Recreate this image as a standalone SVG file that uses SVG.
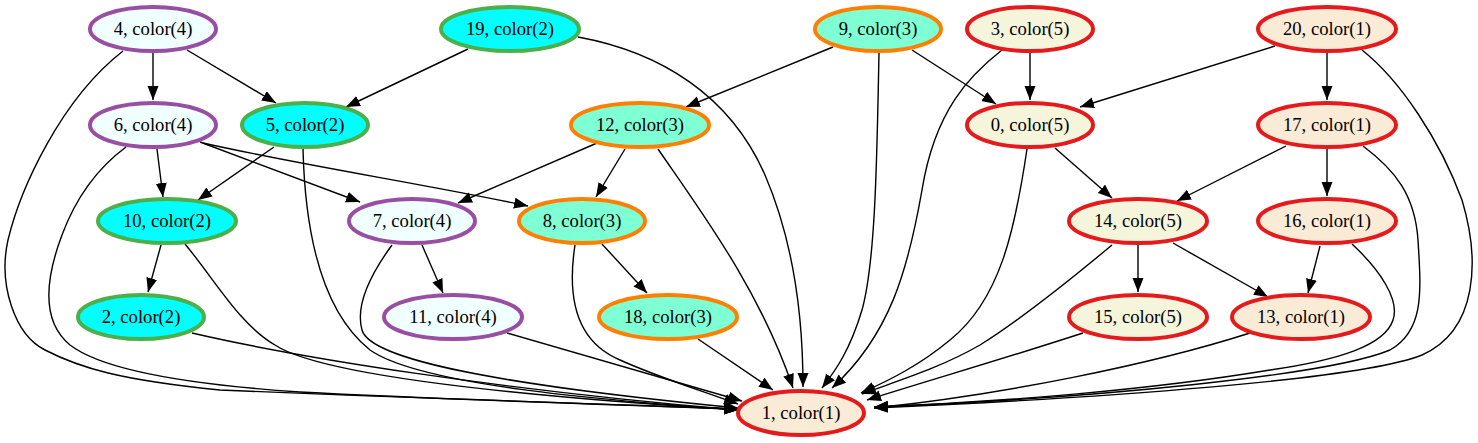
<svg xmlns="http://www.w3.org/2000/svg" width="1478" height="443" viewBox="0 0 1478 443">
<defs>
<marker id="ah" markerUnits="userSpaceOnUse" markerWidth="15" markerHeight="12" refX="14" refY="5.5" orient="auto">
<path d="M0,0 L14,5.5 L0,11 z" fill="#000"/>
</marker>
<style>
.e path{fill:none;stroke:#000;stroke-width:1.4;marker-end:url(#ah)}
ellipse{stroke-width:4}
text{font-family:"Liberation Serif","Times New Roman",serif;font-size:18.67px;text-anchor:middle;fill:#000}
.c1 ellipse{fill:#faebd7;stroke:#e41a1c}
.c2 ellipse{fill:#00ffff;stroke:#4daf4a}
.c3 ellipse{fill:#7fffd4;stroke:#ff7f00}
.c4 ellipse{fill:#f0ffff;stroke:#984ea3}
.c5 ellipse{fill:#f5f5dc;stroke:#e41a1c}
</style>
</defs>
<rect width="1478" height="443" fill="#fff"/>
<g id="edges" class="e">
<path d="M153,53 L153,100"/>
<path d="M187,50 L276,103"/>
<path d="M123,51 C60,100 20,190 8,240 C-2,285 15,335 45,350 C80,368 120,380 220,390 C400,398 600,403 738,409"/>
<path d="M126,147 C95,170 75,200 62,235 C45,280 42,322 70,345 C100,368 180,384 300,392 C450,400 600,404 738,409"/>
<path d="M468,49 L346,107"/>
<path d="M578,37 C660,52 730,95 765,175 C795,245 803,320 803,387"/>
<path d="M157,149 L163,197"/>
<path d="M200,142 L360,202"/>
<path d="M203,143 C300,165 430,185 528,206"/>
<path d="M274,147 L198,200"/>
<path d="M303,149 C305,230 320,310 370,350 C420,385 600,400 738,410"/>
<path d="M833,47 L686,107"/>
<path d="M912,50 L996,104"/>
<path d="M879,53 C877,150 876,260 862,310 C850,350 836,370 822,388"/>
<path d="M1030,53 L1030,100"/>
<path d="M1002,50 C970,75 935,110 922,190 C908,270 890,335 832,388"/>
<path d="M1275,46 L1080,107"/>
<path d="M1327,53 L1327,100"/>
<path d="M1362,50 C1400,80 1440,140 1462,200 C1480,260 1478,330 1422,355 C1360,380 1100,398 874,408"/>
<path d="M597,143 L458,203"/>
<path d="M625,149 L596,197"/>
<path d="M658,149 C700,210 760,290 793,388"/>
<path d="M1286,146 L1177,201"/>
<path d="M1327,149 L1327,196"/>
<path d="M1363,146 C1395,170 1415,195 1418,240 C1421,290 1425,330 1390,350 C1330,375 1100,398 874,407"/>
<path d="M1055,148 L1112,198"/>
<path d="M1027,149 C1015,230 1000,300 950,340 C920,365 890,380 861,393"/>
<path d="M161,245 L148,292"/>
<path d="M185,244 C215,280 240,325 275,345 C320,375 500,395 738,410"/>
<path d="M422,245 L443,293"/>
<path d="M392,245 C370,275 355,305 362,330 C370,360 500,385 738,408"/>
<path d="M602,244 L647,293"/>
<path d="M575,245 C568,290 572,340 620,360 C660,378 700,390 738,404"/>
<path d="M1138,245 L1138,292"/>
<path d="M1173,243 L1268,297"/>
<path d="M1112,245 C1070,280 1020,320 980,345 C940,368 900,380 862,394"/>
<path d="M1320,246 L1308,293"/>
<path d="M1352,244 C1380,270 1400,300 1393,320 C1385,345 1340,360 1270,370 C1150,390 1000,402 874,407"/>
<path d="M192,333 C300,358 500,390 738,410"/>
<path d="M507,333 L742,401"/>
<path d="M698,339 L773,390"/>
<path d="M1083,333 C1000,360 930,380 867,400"/>
<path d="M1250,333 C1150,365 1000,395 874,408"/>
</g>
<g id="n4" class="c4"><ellipse cx="153" cy="29" rx="63" ry="22"/><text x="153" y="35">4, color(4)</text></g>
<g id="n19" class="c2"><ellipse cx="510" cy="29" rx="69" ry="22"/><text x="510" y="35">19, color(2)</text></g>
<g id="n9" class="c3"><ellipse cx="878" cy="29" rx="63" ry="22"/><text x="878" y="35">9, color(3)</text></g>
<g id="n3" class="c5"><ellipse cx="1030" cy="29" rx="63" ry="22"/><text x="1030" y="35">3, color(5)</text></g>
<g id="n20" class="c1"><ellipse cx="1327" cy="29" rx="69" ry="22"/><text x="1327" y="35">20, color(1)</text></g>
<g id="n6" class="c4"><ellipse cx="153" cy="125" rx="63" ry="22"/><text x="153" y="131">6, color(4)</text></g>
<g id="n5" class="c2"><ellipse cx="305" cy="125" rx="63" ry="22"/><text x="305" y="131">5, color(2)</text></g>
<g id="n12" class="c3"><ellipse cx="640" cy="125" rx="69" ry="22"/><text x="640" y="131">12, color(3)</text></g>
<g id="n0" class="c5"><ellipse cx="1030" cy="125" rx="63" ry="22"/><text x="1030" y="131">0, color(5)</text></g>
<g id="n17" class="c1"><ellipse cx="1327" cy="125" rx="69" ry="22"/><text x="1327" y="131">17, color(1)</text></g>
<g id="n10" class="c2"><ellipse cx="167" cy="221" rx="69" ry="22"/><text x="167" y="227">10, color(2)</text></g>
<g id="n7" class="c4"><ellipse cx="412" cy="221" rx="63" ry="22"/><text x="412" y="227">7, color(4)</text></g>
<g id="n8" class="c3"><ellipse cx="582" cy="221" rx="63" ry="22"/><text x="582" y="227">8, color(3)</text></g>
<g id="n14" class="c5"><ellipse cx="1138" cy="221" rx="69" ry="22"/><text x="1138" y="227">14, color(5)</text></g>
<g id="n16" class="c1"><ellipse cx="1327" cy="221" rx="69" ry="22"/><text x="1327" y="227">16, color(1)</text></g>
<g id="n2" class="c2"><ellipse cx="141" cy="317" rx="63" ry="22"/><text x="141" y="323">2, color(2)</text></g>
<g id="n11" class="c4"><ellipse cx="453" cy="317" rx="69" ry="22"/><text x="453" y="323">11, color(4)</text></g>
<g id="n18" class="c3"><ellipse cx="668" cy="317" rx="69" ry="22"/><text x="668" y="323">18, color(3)</text></g>
<g id="n15" class="c5"><ellipse cx="1138" cy="317" rx="69" ry="22"/><text x="1138" y="323">15, color(5)</text></g>
<g id="n13" class="c1"><ellipse cx="1301" cy="317" rx="69" ry="22"/><text x="1301" y="323">13, color(1)</text></g>
<g id="n1" class="c1"><ellipse cx="801" cy="413" rx="63" ry="22"/><text x="801" y="419">1, color(1)</text></g>
</svg>
